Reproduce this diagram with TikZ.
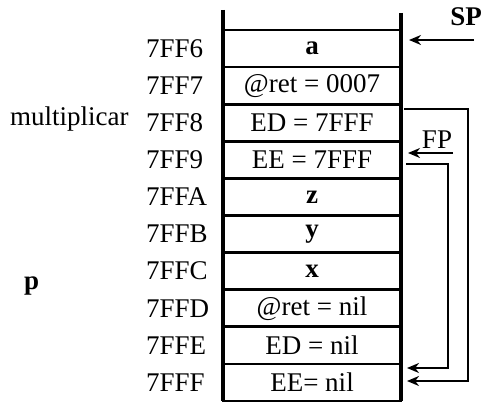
\documentclass[tikz,border=0pt]{standalone}
\usepackage{fontspec}
\setmainfont{Liberation Serif}
\usetikzlibrary{arrows.meta,calc}
\begin{document}
\begin{tikzpicture}[x=1pt,y=-1pt,
  every node/.style={inner sep=0pt,outer sep=0pt},
  txt/.style={font=\fontsize{27}{30}\selectfont},
  cell/.style={txt,draw,line width=2.8pt,minimum width=178pt,minimum height=37.1pt,anchor=center},
  addr/.style={txt,anchor=west},
  ptr/.style={line width=2.8pt,-{Stealth[length=12pt,width=10pt]}},
  wall/.style={line width=3.2pt}]
\useasboundingbox (0,0) rectangle (489,403);

% stack cells, from top (7FF6) to bottom (7FFF)
\foreach \i/\t/\nm in {0/{\textbf{a}}/c0,1/{@ret = 0007}/c1,2/{ED = 7FFF}/c2,3/{EE = 7FFF}/c3,
  4/{\textbf{z}}/c4,5/{\textbf{y}}/c5,6/{\textbf{x}}/c6,7/{@ret = nil}/c7,8/{ED = nil}/c8,9/{EE= nil}/c9}
  \node[cell] (\nm) at (312,{30+37.1*\i+18.55}) {\t};

% addresses
\foreach \i/\a in {0/7FF6,1/7FF7,2/7FF8,3/7FF9,4/7FFA,5/7FFB,6/7FFC,7/7FFD,8/7FFE,9/7FFF}
  \node[addr] (a\i) at (146,{30+37.1*\i+18.55}) {\a};

% stack walls
\coordinate (wl) at (223,10);
\coordinate (wr) at (401,13);
\draw[wall] (wl) -- (wl |- c9.south);
\draw[wall] (wr) -- (wr |- c9.south);

% frame labels
\node[txt,anchor=west] (mult) at (10,119) {multiplicar};
\node[txt,anchor=west] (proc) at (24,286) {\textbf{p}};

% stack pointer
\node[txt,anchor=center] (sp) at (466,17) {\textbf{SP}};
\coordinate (spt) at (474,40);
\draw[ptr] (spt) -- ([xshift=8pt]c0.east |- spt);

% frame pointer
\node[txt,anchor=center] (fp) at (437,140) {FP};
\coordinate (fpt) at (453,153);
\draw[ptr] (fpt) -- ([xshift=7pt]c3.east |- fpt);

% dynamic links to 7FFF
\coordinate (ed) at (404,109);
\coordinate (ee) at (406,164);
\draw[ptr] (ed) -- (468,109) -- (468,381) -- ([xshift=6pt]c9.east |- 0,381);
\draw[ptr] (ee) -- (448,164) -- (448,368) -- ([xshift=6pt]c9.east |- 0,368);
\end{tikzpicture}
\end{document}
